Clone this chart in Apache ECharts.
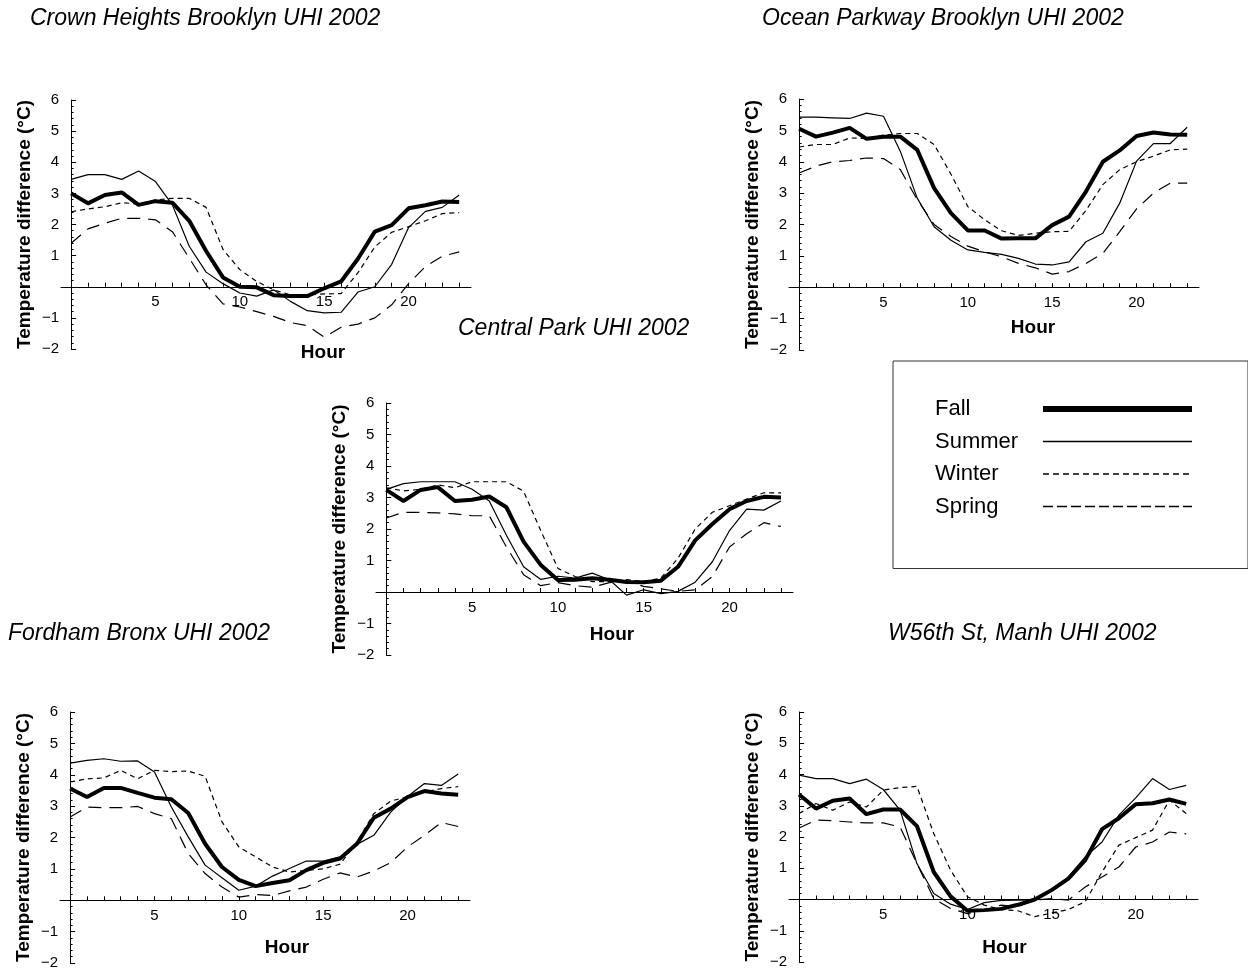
<!DOCTYPE html>
<html>
<head>
<meta charset="utf-8">
<title>UHI 2002</title>
<script src="https://cdn.jsdelivr.net/npm/echarts@6/dist/echarts.min.js"></script>
<style>
  html, body { margin: 0; padding: 0; background: #fff; }
  #chart { width: 1248px; height: 977px; }
</style>
</head>
<body>
<div id="chart"></div>
<script>
// hour of day
const hours = [0, 1, 2, 3, 4, 5, 6, 7, 8, 9, 10, 11, 12, 13, 14, 15, 16, 17, 18, 19, 20, 21, 22, 23];
const seasons = ['Fall', 'Summer', 'Winter', 'Spring'];
const hourTicks = [1, 2, 3, 4, 5, 6, 7, 8, 9, 10, 11, 12, 13, 14, 15, 16, 17, 18, 19, 20, 21, 22, 23];
const hourLabels = [5, 10, 15, 20];

// Crown Heights Brooklyn
const fallCrown = [3.0, 2.68, 2.95, 3.03, 2.63, 2.75, 2.7, 2.12, 1.15, 0.3, 0.0, -0.02, -0.27, -0.3, -0.3, -0.05, 0.17, 0.9, 1.77, 1.98, 2.52, 2.62, 2.74, 2.72];
const summerCrown = [3.45, 3.6, 3.6, 3.45, 3.72, 3.38, 2.63, 1.3, 0.47, 0.1, -0.2, -0.3, -0.1, -0.47, -0.77, -0.84, -0.82, -0.17, 0.0, 0.72, 1.9, 2.42, 2.55, 2.95];
const winterCrown = [2.41, 2.5, 2.57, 2.7, 2.66, 2.79, 2.84, 2.84, 2.55, 1.2, 0.55, 0.17, -0.1, -0.26, -0.26, -0.23, -0.22, 0.45, 1.28, 1.75, 1.93, 2.12, 2.35, 2.38];
const springCrown = [1.4, 1.86, 2.04, 2.2, 2.2, 2.15, 1.77, 0.92, 0.06, -0.55, -0.65, -0.8, -0.95, -1.15, -1.25, -1.62, -1.3, -1.2, -1.0, -0.58, 0.1, 0.65, 0.98, 1.12];

// Ocean Parkway Brooklyn
const fallOcean = [5.05, 4.8, 4.93, 5.08, 4.73, 4.8, 4.8, 4.38, 3.16, 2.36, 1.81, 1.81, 1.55, 1.56, 1.56, 1.98, 2.25, 3.05, 4.0, 4.36, 4.82, 4.93, 4.87, 4.86];
const summerOcean = [5.42, 5.42, 5.4, 5.38, 5.55, 5.45, 4.33, 2.84, 1.93, 1.5, 1.19, 1.11, 1.05, 0.92, 0.74, 0.71, 0.81, 1.45, 1.72, 2.68, 4.02, 4.58, 4.58, 5.1];
const winterOcean = [4.47, 4.55, 4.55, 4.76, 4.74, 4.85, 4.9, 4.9, 4.55, 3.6, 2.57, 2.15, 1.8, 1.65, 1.72, 1.77, 1.78, 2.45, 3.27, 3.75, 4.0, 4.18, 4.38, 4.4];
const springOcean = [3.64, 3.86, 4.0, 4.04, 4.12, 4.1, 3.75, 2.79, 2.0, 1.62, 1.31, 1.13, 0.97, 0.76, 0.62, 0.42, 0.5, 0.76, 1.08, 1.77, 2.5, 3.0, 3.32, 3.32];

// Central Park
const fallCentral = [3.24, 2.89, 3.24, 3.33, 2.89, 2.93, 3.03, 2.69, 1.6, 0.86, 0.38, 0.39, 0.44, 0.39, 0.32, 0.31, 0.36, 0.8, 1.64, 2.16, 2.63, 2.89, 3.02, 3.0];
const summerCentral = [3.26, 3.44, 3.5, 3.5, 3.5, 3.26, 2.89, 1.8, 0.8, 0.4, 0.5, 0.44, 0.6, 0.39, -0.1, 0.07, -0.05, 0.02, 0.31, 0.96, 1.95, 2.63, 2.6, 2.89];
const winterCentral = [3.31, 3.21, 3.26, 3.4, 3.31, 3.5, 3.5, 3.5, 3.2, 1.95, 0.75, 0.49, 0.33, 0.33, 0.39, 0.33, 0.44, 1.07, 2.0, 2.53, 2.74, 2.95, 3.15, 3.15];
const springCentral = [2.35, 2.53, 2.53, 2.51, 2.48, 2.42, 2.42, 1.43, 0.55, 0.2, 0.3, 0.2, 0.15, 0.3, 0.33, 0.18, 0.1, 0.02, 0.07, 0.49, 1.43, 1.85, 2.2, 2.08];

// Fordham Bronx
const fallFordham = [3.56, 3.29, 3.58, 3.58, 3.42, 3.27, 3.22, 2.78, 1.8, 1.06, 0.65, 0.45, 0.55, 0.64, 0.96, 1.19, 1.33, 1.8, 2.63, 2.92, 3.29, 3.48, 3.4, 3.36];
const summerFordham = [4.37, 4.46, 4.51, 4.43, 4.44, 4.09, 2.97, 2.02, 1.12, 0.72, 0.32, 0.45, 0.77, 1.01, 1.25, 1.25, 1.38, 1.78, 2.07, 2.81, 3.31, 3.72, 3.66, 4.02];
const winterFordham = [3.77, 3.87, 3.9, 4.14, 3.87, 4.14, 4.1, 4.12, 3.95, 2.5, 1.7, 1.38, 1.06, 0.9, 0.95, 1.0, 1.15, 1.86, 2.76, 3.16, 3.3, 3.45, 3.56, 3.62];
const springFordham = [2.65, 2.97, 2.95, 2.95, 2.99, 2.76, 2.6, 1.49, 0.85, 0.42, 0.1, 0.18, 0.15, 0.3, 0.42, 0.67, 0.87, 0.74, 0.93, 1.2, 1.7, 2.07, 2.48, 2.35];

// W56th St, Manhattan
const fallW56 = [3.36, 2.91, 3.16, 3.23, 2.73, 2.88, 2.88, 2.35, 0.88, 0.1, -0.36, -0.34, -0.3, -0.17, 0.0, 0.3, 0.67, 1.26, 2.25, 2.6, 3.05, 3.08, 3.2, 3.06];
const summerW56 = [3.98, 3.87, 3.87, 3.71, 3.85, 3.52, 2.86, 1.15, 0.19, -0.15, -0.32, -0.1, -0.03, -0.02, -0.02, 0.3, 0.72, 1.36, 1.84, 2.7, 3.25, 3.87, 3.52, 3.65];
const winterW56 = [2.75, 3.07, 2.86, 3.12, 2.96, 3.5, 3.58, 3.62, 2.11, 0.94, 0.09, -0.18, -0.32, -0.36, -0.55, -0.43, -0.32, -0.07, 0.88, 1.74, 1.98, 2.22, 3.18, 2.75];
const springW56 = [2.29, 2.54, 2.52, 2.48, 2.45, 2.45, 2.32, 1.15, 0.03, -0.29, -0.45, -0.34, -0.18, -0.23, -0.02, 0.03, -0.02, 0.4, 0.72, 1.04, 1.68, 1.84, 2.16, 2.1];

const FONT = '"Liberation Sans", Arial, Helvetica, sans-serif';
const X_MIN = -0.6, X_MAX = 23.7, Y_MIN = -2, Y_MAX = 6;

// panel layout (pixels)
const panels = [
  { title: 'Crown Heights Brooklyn UHI 2002', tLeft: 30, tTop: 7,
    grid: { left: 61, top: 100, width: 410, height: 249 }, hourGap: 57, hourShift: 114,
    series: [fallCrown, summerCrown, winterCrown, springCrown] },
  { title: 'Ocean Parkway Brooklyn UHI 2002', tLeft: 762, tTop: 7,
    grid: { left: 789, top: 99, width: 410, height: 251 }, hourGap: 31, hourShift: 78,
    series: [fallOcean, summerOcean, winterOcean, springOcean] },
  { title: 'Central Park UHI 2002', tLeft: 458, tTop: 317,
    grid: { left: 376, top: 403, width: 417, height: 252 }, hourGap: 33, hourShift: 55,
    series: [fallCentral, summerCentral, winterCentral, springCentral] },
  { title: 'Fordham Bronx UHI 2002', tLeft: 8, tTop: 622,
    grid: { left: 60, top: 712, width: 410, height: 251 }, hourGap: 38, hourShift: 44,
    series: [fallFordham, summerFordham, winterFordham, springFordham] },
  { title: 'W56th St, Manh UHI 2002', tLeft: 888, tTop: 622,
    grid: { left: 789, top: 712, width: 409, height: 250 }, hourGap: 39, hourShift: 22,
    series: [fallW56, summerW56, winterW56, springW56] },
];

const lineStyles = {
  Fall: { width: 4, type: 'solid' },
  Summer: { width: 1.2, type: 'solid' },
  Winter: { width: 1.2, type: [5, 4] },
  Spring: { width: 1.2, type: [13, 8] },
};

const chart = echarts.init(document.getElementById('chart'), null, { renderer: 'canvas' });

const series = [];
panels.forEach((p, i) => {
  p.series.forEach((vals, k) => {
    const name = seasons[k];
    series.push({
      type: 'line',
      name: name,
      xAxisIndex: i,
      yAxisIndex: i,
      data: hours.map((h, j) => [h, vals[j]]),
      symbol: 'none',
      silent: true,
      z: k === 0 ? 3 : 2,
      lineStyle: { color: '#000', width: lineStyles[name].width, type: lineStyles[name].type },
    });
  });
});

// axes cross at (0, 0): shift them into the grid with an offset
const xOffset = p => -p.grid.height * (0 - Y_MIN) / (Y_MAX - Y_MIN);
const yOffset = p => -p.grid.width * (0 - X_MIN) / (X_MAX - X_MIN);

const option = {
  animation: false,
  backgroundColor: '#fff',
  title: panels.map(p => ({
    text: p.title,
    left: p.tLeft,
    top: p.tTop,
    padding: 0,
    textStyle: { fontStyle: 'italic', fontWeight: 'normal', fontSize: 23, color: '#000', fontFamily: FONT },
  })),
  legend: {
    orient: 'vertical',
    left: 893,
    top: 361,
    padding: [37, 53, 51, 42],
    borderColor: '#333',
    borderWidth: 1,
    itemWidth: 149,
    itemHeight: 22,
    itemGap: 10.5,
    align: 'right',
    selectedMode: false,
    itemStyle: { opacity: 0, borderWidth: 0 },
    formatter: n => '{t|' + n + '}',
    textStyle: {
      fontFamily: FONT, fontSize: 22, color: '#000',
      rich: { t: { width: 103, align: 'left', fontSize: 22, lineHeight: 22, color: '#000', fontFamily: FONT } },
    },
    data: [
      { name: 'Fall', lineStyle: { width: 6, type: 'solid', color: '#000' } },
      { name: 'Summer', lineStyle: { width: 1.3, type: 'solid', color: '#000' } },
      { name: 'Winter', lineStyle: { width: 1.3, type: [6, 4], color: '#000' } },
      { name: 'Spring', lineStyle: { width: 1.3, type: [10, 4], color: '#000' } },
    ],
  },
  grid: panels.map(p => Object.assign({ containLabel: false }, p.grid)),
  xAxis: panels.map((p, i) => ({
    type: 'value',
    gridIndex: i,
    min: X_MIN,
    max: X_MAX,
    position: 'bottom',
    offset: xOffset(p),
    axisLine: { show: true, onZero: false, lineStyle: { color: '#000', width: 1 } },
    axisTick: { show: true, inside: true, length: 4, customValues: hourTicks, lineStyle: { color: '#000' } },
    axisLabel: { customValues: hourLabels, color: '#000', fontSize: 15, margin: 8, fontFamily: FONT },
    splitLine: { show: false },
    name: 'Hour',
    nameLocation: 'middle',
    nameGap: p.hourGap,
    nameTextStyle: { fontWeight: 'bold', fontSize: 19, color: '#000', fontFamily: FONT, padding: [0, 0, 0, p.hourShift] },
  })),
  yAxis: panels.map((p, i) => ({
    type: 'value',
    gridIndex: i,
    min: Y_MIN,
    max: Y_MAX,
    interval: 1,
    position: 'left',
    offset: yOffset(p),
    axisLine: { show: true, onZero: false, lineStyle: { color: '#000', width: 1 } },
    axisTick: { show: true, inside: true, length: 5, lineStyle: { color: '#000' } },
    minorTick: { show: true, splitNumber: 5, length: 2.5, lineStyle: { color: '#000' } },
    axisLabel: {
      color: '#000', fontSize: 15, margin: 12, fontFamily: FONT,
      formatter: v => (v === 0 ? '' : (v < 0 ? '\u2212' + (-v) : String(v))),
    },
    splitLine: { show: false },
    name: 'Temperature difference (\u00B0C)',
    nameLocation: 'middle',
    nameGap: 37,
    nameTextStyle: { fontWeight: 'bold', fontSize: 19, color: '#000', fontFamily: FONT },
  })),
  series: series,
};

chart.setOption(option);
</script>
</body>
</html>
